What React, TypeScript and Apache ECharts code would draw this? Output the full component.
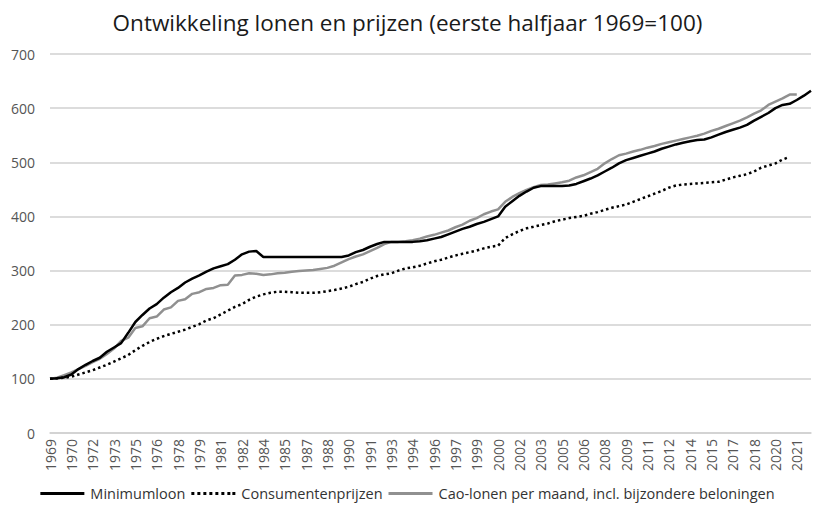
import React, { useEffect, useRef } from "react";
import * as echarts from "echarts";

const title = "Ontwikkeling lonen en prijzen (eerste halfjaar 1969=100)";

// half-year categories (first and second half of each year)
const halfYears = [
  "1969", "1969", "1970", "1970", "1971", "1971", "1972", "1972", "1973", "1973",
  "1974", "1974", "1975", "1975", "1976", "1976", "1977", "1977", "1978", "1978",
  "1979", "1979", "1980", "1980", "1981", "1981", "1982", "1982", "1983", "1983",
  "1984", "1984", "1985", "1985", "1986", "1986", "1987", "1987", "1988", "1988",
  "1989", "1989", "1990", "1990", "1991", "1991", "1992", "1992", "1993", "1993",
  "1994", "1994", "1995", "1995", "1996", "1996", "1997", "1997", "1998", "1998",
  "1999", "1999", "2000", "2000", "2001", "2001", "2002", "2002", "2003", "2003",
  "2004", "2004", "2005", "2005", "2006", "2006", "2007", "2007", "2008", "2008",
  "2009", "2009", "2010", "2010", "2011", "2011", "2012", "2012", "2013", "2013",
  "2014", "2014", "2015", "2015", "2016", "2016", "2017", "2017", "2018", "2018",
  "2019", "2019", "2020", "2020", "2021", "2021", "2022", "2022",
];

const minimumloon = [
  100, 101, 103, 108, 118, 126, 133, 139, 150, 158,
  166, 185, 205, 218, 230, 238, 250, 260, 268, 278,
  285, 291, 298, 304, 308, 312, 320, 330, 335, 336,
  325, 325, 325, 325, 325, 325, 325, 325, 325, 325,
  325, 325, 328, 334, 338, 344, 349, 353, 353, 353,
  353, 353, 354, 356, 359, 362, 367, 372, 377, 381,
  386, 390, 395, 400, 418, 428, 438, 446, 453, 456,
  456, 456, 456, 457, 460, 465, 470, 476, 483, 490,
  498, 504, 508, 512, 516, 520, 525, 529, 533, 536,
  539, 541, 542, 546, 551, 556, 560, 564, 569, 577,
  584, 591, 600, 606, 608, 615, 623, 632,
];

const consumentenprijzen = [
  100, 101, 102, 104, 108, 112, 116, 121, 126, 132,
  138, 144, 153, 161, 168, 174, 179, 183, 187, 191,
  196, 201, 208, 212, 219, 226, 233, 238, 246, 252,
  256, 259, 261, 261, 260, 259, 259, 259, 260, 262,
  264, 267, 270, 275, 279, 285, 290, 293, 295, 300,
  304, 306, 309, 313, 317, 320, 324, 328, 331, 334,
  337, 341, 344, 346, 360, 367, 373, 378, 381, 384,
  387, 391, 394, 397, 399, 401, 405, 408, 412, 416,
  419, 422, 427, 432, 437, 442, 447, 453, 457, 459,
  460, 461, 462, 463, 464, 468, 472, 475, 478, 483,
  490, 494, 498, 505, 510,
];

const caoLonen = [
  100, 102, 107, 112, 118, 124, 131, 137, 146, 156,
  170, 176, 194, 197, 212, 215, 228, 232, 244, 247,
  257, 260, 266, 268, 273, 274, 291, 292, 295, 294,
  292, 293, 295, 296, 298, 299, 300, 301, 303, 305,
  309, 315, 321, 326, 330, 336, 342, 349, 353, 353,
  354, 356, 359, 363, 366, 370, 374, 380, 385, 392,
  397, 404, 409, 413, 427, 436, 443, 449, 454, 458,
  459, 461, 463, 466, 472, 476, 482, 488, 498, 506,
  513, 516, 520, 523, 527, 530, 534, 537, 540, 543,
  546, 549, 553, 558, 562, 567, 572, 577, 583, 590,
  596, 606, 612, 618, 625, 625,
];

const seriesNames = [
  "Minimumloon",
  "Consumentenprijzen",
  "Cao-lonen per maand, incl. bijzondere beloningen",
];

const solidIcon = "path://M0,0H44V3H0Z";
const dottedIcon =
  "path://M0,0h3v3h-3z M6,0h3v3h-3z M12,0h3v3h-3z M18,0h3v3h-3z M24,0h3v3h-3z M30,0h3v3h-3z M36,0h3v3h-3z M41,0h3v3h-3z";

export default function App() {
  const ref = useRef<HTMLDivElement>(null);
  useEffect(() => {
    if (!ref.current) return;
    const chart = echarts.init(ref.current, null, { renderer: "svg" });
    const font = "Open Sans, Noto Sans, sans-serif";
    chart.setOption({
      animation: false,
      backgroundColor: "#ffffff",
      title: {
        text: title,
        left: "center",
        top: 6,
        textStyle: { fontFamily: font, fontSize: 22.5, fontWeight: "normal", color: "#1a1a1a" },
      },
      legend: {
        bottom: 8,
        left: "center",
        itemWidth: 46,
        itemHeight: 3,
        itemGap: 6,
        textStyle: { fontFamily: font, fontSize: 14.5, color: "#333" },
        data: [
          { name: seriesNames[0], icon: solidIcon, itemStyle: { color: "#000000" } },
          { name: seriesNames[1], icon: dottedIcon, itemStyle: { color: "#000000" } },
          { name: seriesNames[2], icon: solidIcon, itemStyle: { color: "#909090" } },
        ],
      },
      grid: { left: 50, right: 4, top: 54, bottom: 81, containLabel: false },
      xAxis: {
        type: "category",
        data: halfYears,
        boundaryGap: false,
        axisLine: { show: true, lineStyle: { color: "#d0d0d0", width: 1.5 } },
        axisTick: { show: false },
        axisLabel: {
          interval: 2,
          rotate: 90,
          fontFamily: font,
          fontSize: 14,
          color: "#555",
          margin: 6,
        },
      },
      yAxis: {
        type: "value",
        min: 0,
        max: 700,
        interval: 100,
        axisLine: { show: false },
        axisTick: { show: false },
        axisLabel: { fontFamily: font, fontSize: 14, color: "#555", margin: 15 },
        splitLine: { lineStyle: { color: "#d0d0d0", width: 1.5 } },
      },
      series: [
        {
          name: seriesNames[0],
          type: "line",
          data: minimumloon,
          showSymbol: false,
          symbol: "none",
          color: "#000000",
          lineStyle: { color: "#000000", width: 2.5 },
          z: 3,
        },
        {
          name: seriesNames[1],
          type: "line",
          data: consumentenprijzen,
          showSymbol: false,
          symbol: "none",
          color: "#000000",
          lineStyle: { color: "#000000", width: 2.5, type: [2.5, 3] },
          z: 2,
        },
        {
          name: seriesNames[2],
          type: "line",
          data: caoLonen,
          showSymbol: false,
          symbol: "none",
          color: "#909090",
          lineStyle: { color: "#909090", width: 2.5 },
          z: 1,
        },
      ],
    });
    return () => chart.dispose();
  }, []);
  return <div ref={ref} style={{ width: 815, height: 514, position: "absolute", left: 0, top: 0 }} />;
}
